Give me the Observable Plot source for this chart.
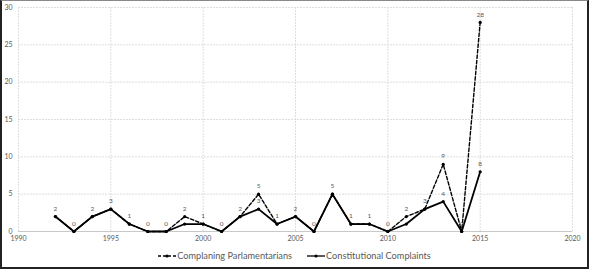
<!DOCTYPE html>
<html><head><meta charset="utf-8">
<script src="https://cdn.jsdelivr.net/npm/d3@7"></script>
<script src="https://cdn.jsdelivr.net/npm/@observablehq/plot@0.6"></script>
<style>
body{margin:0;background:#fff}
#wrap{position:relative;width:589px;height:269px;overflow:hidden;background:#fff;font-family:Lato,"Open Sans",sans-serif}
#frame{position:absolute;left:0;top:0;width:589px;height:269px;box-sizing:border-box;border-left:2px solid #222;border-right:2px solid #222;border-bottom:2px solid #222;border-top:1px solid #888;pointer-events:none}
#legend{position:absolute;left:0;top:249px;width:589px;display:flex;justify-content:center;gap:15px;font-size:9.2px;color:#595959;line-height:14px}
#legend span{display:inline-flex;align-items:center}
#legend svg{margin-right:1px}
</style></head><body>
<div id="wrap"><div id="chart"></div><div id="legend"></div><div id="frame"></div></div>
<script>
const years = [1992,1993,1994,1995,1996,1997,1998,1999,2000,2001,2002,2003,2004,2005,2006,2007,2008,2009,2010,2011,2012,2013,2014,2015];
const parliamentarians = [2,0,2,3,1,0,0,2,1,0,2,5,1,2,0,5,1,1,0,2,3,9,0,28];
const constitutional   = [2,0,2,3,1,0,0,1,1,0,2,3,1,2,0,5,1,1,0,1,3,4,0,8];
const labeledConstitutionalYears = [2003,2013,2015];
const seriesNames = ["Complaning Parlamentarians","Constitutional Complaints"];
const xTicks = [1990,1995,2000,2005,2010,2015,2020];
const yTicks = [0,5,10,15,20,25,30];

const dataP = years.map((y,i)=>({year:y, value:parliamentarians[i]}));
const dataC = years.map((y,i)=>({year:y, value:constitutional[i]}));
const labelsC = dataC.filter(d=>labeledConstitutionalYears.includes(d.year));

const txt = {fontSize:6.5, fill:"#595959"};
const chart = Plot.plot({
  width:589, height:245,
  marginLeft:18, marginRight:17, marginTop:7, marginBottom:14,
  style:{background:"#fff", fontFamily:"Lato, 'Open Sans', sans-serif", overflow:"visible"},
  x:{domain:[1990,2020]},
  y:{domain:[0,30]},
  marks:[
    Plot.gridX(xTicks,{stroke:"#dedede", strokeOpacity:1, strokeDasharray:"2,1"}),
    Plot.gridY(yTicks.filter(v=>v>0),{stroke:"#dedede", strokeOpacity:1, strokeDasharray:"2,1"}),
    Plot.ruleY([0],{stroke:"#c8c8c8"}),
    Plot.axisX(xTicks,{tickSize:0, tickPadding:5, tickFormat:d=>String(d), fontSize:7, fill:"#595959", label:null}),
    Plot.axisY(yTicks,{tickSize:0, tickPadding:6, tickFormat:d=>String(d), fontSize:7, fill:"#595959", label:null}),
    Plot.line(dataP,{x:"year", y:"value", stroke:"#000", strokeWidth:1.4, strokeDasharray:"3.5,2"}),
    Plot.line(dataC,{x:"year", y:"value", stroke:"#000", strokeWidth:1.8}),
    Plot.dot(dataP,{x:"year", y:"value", r:1.6, fill:"#000"}),
    Plot.dot(dataC,{x:"year", y:"value", r:1.6, fill:"#000"}),
    Plot.text(dataP,{x:"year", y:"value", text:d=>String(d.value), dy:-8, ...txt}),
    Plot.text(labelsC,{x:"year", y:"value", text:d=>String(d.value), dy:-8, ...txt})
  ]
});
document.getElementById("chart").appendChild(chart);

const legend = document.getElementById("legend");
const dashes = ["3,2", null];
seriesNames.forEach((name,i)=>{
  const s = document.createElement("span");
  s.innerHTML = `<svg width="18" height="8"><line x1="0" y1="4" x2="18" y2="4" stroke="#000" stroke-width="1.3" ${dashes[i]?`stroke-dasharray="${dashes[i]}"`:""}/><circle cx="9" cy="4" r="1.6" fill="#000"/></svg>${name}`;
  legend.appendChild(s);
});
</script>
</body></html>
